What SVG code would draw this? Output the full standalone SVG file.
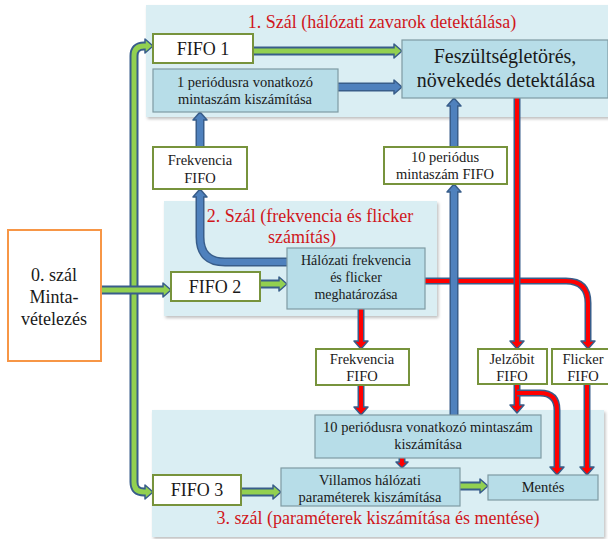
<svg xmlns="http://www.w3.org/2000/svg" width="608" height="539" viewBox="0 0 608 539">
<defs>
<filter id="sh" x="-5%" y="-5%" width="110%" height="115%">
<feDropShadow dx="1.5" dy="2" stdDeviation="1.5" flood-color="#000" flood-opacity="0.25"/>
</filter>
<style>
.panel{fill:#daeef3;filter:url(#sh)}
.calc{fill:#b7dde8;stroke:#7f9ba3;stroke-width:1.2}
.fifo{fill:#fff;stroke:#77933c;stroke-width:2}
.src{fill:#fff;stroke:#f79646;stroke-width:2}
.t{font-family:"Liberation Serif","Times New Roman",serif;fill:#1a1a1a;text-anchor:middle}
.title{font-family:"Liberation Serif","Times New Roman",serif;fill:#d0161b;text-anchor:middle;font-size:18px}
.ob{fill:none;stroke:#385d8a;stroke-width:9}
.or{fill:none;stroke:#385d8a;stroke-width:7}
.ig{fill:none;stroke:#92d050;stroke-width:5}
.ib{fill:none;stroke:#4f81bd;stroke-width:6}
.ir{fill:none;stroke:#ff0000;stroke-width:4}
.hg{fill:#92d050;stroke:#385d8a;stroke-width:1.5;stroke-linejoin:round}
.hb{fill:#4f81bd;stroke:#385d8a;stroke-width:1.5;stroke-linejoin:round}
.hr{fill:#ff0000;stroke:#385d8a;stroke-width:1.5;stroke-linejoin:round}
</style>
</defs>
<rect width="608" height="539" fill="#fff"/>

<g id="panels">
<g id="thread1"><rect class="panel" x="146" y="5" width="470" height="112"/>
<text class="title" x="382" y="28">1. Szál (hálózati zavarok detektálása)</text></g>
<g id="thread2"><rect class="panel" x="164" y="201" width="273" height="115"/>
<text class="title" x="310" y="222">2. Szál (frekvencia és flicker</text>
<text class="title" x="302" y="243">számítás)</text></g>
<g id="thread3"><rect class="panel" x="152" y="410" width="452" height="127"/>
<text class="title" x="378" y="524">3. szál (paraméterek kiszámítása és mentése)</text></g>
</g>

<g id="connectors">
<path class="ob" d="M146 46 L144 46 Q134 46 134 56 L134 482 Q134 492 144 492 L146 492"/>
<polygon class="hg" points="145,39 153,46 145,53"/>
<polygon class="hg" points="145,485 153,492 145,499"/>
<path class="ig" d="M147 46 L144 46 Q134 46 134 56 L134 482 Q134 492 144 492 L147 492"/>
<path class="ob" d="M101 290 L164 290"/>
<polygon class="hg" points="163,283 171,290 163,297"/>
<path class="ig" d="M101 290 L165 290"/>
<path class="ob" d="M253 51 L395 51"/>
<polygon class="hg" points="394,44 402,51 394,58"/>
<path class="ig" d="M253 51 L396 51"/>
<path class="ob" d="M338 87 L395 87"/>
<polygon class="hb" points="394,80 402,87 394,94"/>
<path class="ib" d="M338 87 L396 87"/>
<path class="ob" d="M200 147 L200 119"/>
<polygon class="hb" points="193,120 200,112 207,120"/>
<path class="ib" d="M200 147 L200 118"/>
<path class="ob" d="M287 262 L225 262 Q200 262 200 237 L200 196"/>
<polygon class="hb" points="193,197 200,189 207,197"/>
<path class="ib" d="M287 262 L225 262 Q200 262 200 237 L200 195"/>
<path class="ob" d="M260 284 L280 284"/>
<polygon class="hg" points="279,277 287,284 279,291"/>
<path class="ig" d="M260 284 L281 284"/>
<path class="or" d="M425 281 L566 281 Q588 281 588 303 L588 342"/>
<polygon class="hr" points="581,341 588,349 595,341"/>
<path class="ir" d="M425 281 L566 281 Q588 281 588 303 L588 343"/>
<path class="ob" d="M454 415 L454 191"/>
<polygon class="hb" points="447,192 454,184 461,192"/>
<path class="ib" d="M454 415 L454 190"/>
<path class="ob" d="M454 147 L454 105"/>
<polygon class="hb" points="447,106 454,98 461,106"/>
<path class="ib" d="M454 147 L454 104"/>
<path class="or" d="M517 98 L517 342"/>
<polygon class="hr" points="510,341 517,349 524,341"/>
<path class="ir" d="M517 98 L517 343"/>
<path class="or" d="M361 309 L361 342"/>
<polygon class="hr" points="354,341 361,349 368,341"/>
<path class="ir" d="M361 309 L361 343"/>
<path class="or" d="M361 385 L361 408"/>
<polygon class="hr" points="354,407 361,415 368,407"/>
<path class="ir" d="M361 385 L361 409"/>
<path class="or" d="M517 384 L517 406"/>
<polygon class="hr" points="510,405 517,413 524,405"/>
<path class="ir" d="M517 384 L517 407"/>
<path class="or" d="M517 393 L540 393 Q557 393 557 410 L557 468"/>
<polygon class="hr" points="550,467 557,475 564,467"/>
<path class="ir" d="M517 393 L540 393 Q557 393 557 410 L557 469"/>
<path class="or" d="M587 384 L587 468"/>
<polygon class="hr" points="580,467 587,475 594,467"/>
<path class="ir" d="M587 384 L587 469"/>
<path class="or" d="M402 458 L402 463"/>
<polygon class="hr" points="396,462 402,468 408,462"/>
<path class="ir" d="M402 458 L402 464"/>
<path class="ob" d="M241 492 L274 492"/>
<polygon class="hg" points="273,485 281,492 273,499"/>
<path class="ig" d="M241 492 L275 492"/>
<path class="ob" d="M460 486 L481 486"/>
<polygon class="hg" points="480,479 488,486 480,493"/>
<path class="ig" d="M460 486 L482 486"/>
</g>

<g id="src"><rect class="src" x="8" y="230" width="93" height="131"/>
<text class="t" font-size="18" x="54" y="281">0. szál</text>
<text class="t" font-size="18" x="54" y="303">Minta-</text>
<text class="t" font-size="18" x="54" y="325">vételezés</text></g>

<g id="fifo1"><rect class="fifo" x="153" y="34" width="100" height="29"/>
<text class="t" font-size="18" x="203" y="55">FIFO 1</text></g>

<g id="per1"><rect class="calc" x="153" y="69" width="185" height="43"/>
<text class="t" font-size="14.5" x="245" y="87">1 periódusra vonatkozó</text>
<text class="t" font-size="14.5" x="245" y="104">mintaszám kiszámítása</text></g>

<g id="fesz"><rect class="calc" x="402" y="40" width="206" height="58"/>
<text class="t" font-size="20" x="505" y="63">Feszültségletörés,</text>
<text class="t" font-size="20" x="506" y="87">növekedés detektálása</text></g>

<g id="frekfifo1"><rect class="fifo" x="153" y="147" width="94" height="42"/>
<text class="t" font-size="14.5" x="200" y="165">Frekvencia</text>
<text class="t" font-size="14.5" x="200" y="183">FIFO</text></g>

<g id="per10fifo"><rect class="fifo" x="384" y="147" width="123" height="37"/>
<text class="t" font-size="14.5" x="445" y="162">10 periódus</text>
<text class="t" font-size="14.5" x="445" y="179">mintaszám FIFO</text></g>

<g id="fifo2"><rect class="fifo" x="171" y="272" width="89" height="29"/>
<text class="t" font-size="18" x="215" y="293">FIFO 2</text></g>

<g id="halozati"><rect class="calc" x="287" y="248" width="138" height="61"/>
<text class="t" font-size="14" x="356" y="265">Hálózati frekvencia</text>
<text class="t" font-size="14" x="356" y="282">és flicker</text>
<text class="t" font-size="14" x="356" y="299">meghatározása</text></g>

<g id="frekfifo2"><rect class="fifo" x="316" y="349" width="93" height="36"/>
<text class="t" font-size="14.5" x="362" y="364">Frekvencia</text>
<text class="t" font-size="14.5" x="362" y="381">FIFO</text></g>

<g id="jelzofifo"><rect class="fifo" x="478" y="349" width="69" height="35"/>
<text class="t" font-size="14.5" x="512" y="364">Jelzőbit</text>
<text class="t" font-size="14.5" x="512" y="381">FIFO</text></g>

<g id="flickerfifo"><rect class="fifo" x="552" y="349" width="60" height="35"/>
<text class="t" font-size="14.5" x="583" y="364">Flicker</text>
<text class="t" font-size="14.5" x="583" y="381">FIFO</text></g>

<g id="per10"><rect class="calc" x="315" y="415" width="226" height="43"/>
<text class="t" font-size="14.5" x="428" y="432">10 periódusra vonatkozó mintaszám</text>
<text class="t" font-size="14.5" x="428" y="449">kiszámítása</text></g>

<g id="fifo3"><rect class="fifo" x="153" y="475" width="88" height="30"/>
<text class="t" font-size="18" x="197" y="496">FIFO 3</text></g>

<g id="villamos"><rect class="calc" x="281" y="468" width="179" height="38"/>
<text class="t" font-size="14.5" x="370" y="485">Villamos hálózati</text>
<text class="t" font-size="14.5" x="370" y="502">paraméterek kiszámítása</text></g>

<g id="mentes"><rect class="calc" x="488" y="475" width="110" height="25"/>
<text class="t" font-size="14.5" x="543" y="492">Mentés</text></g>
</svg>
